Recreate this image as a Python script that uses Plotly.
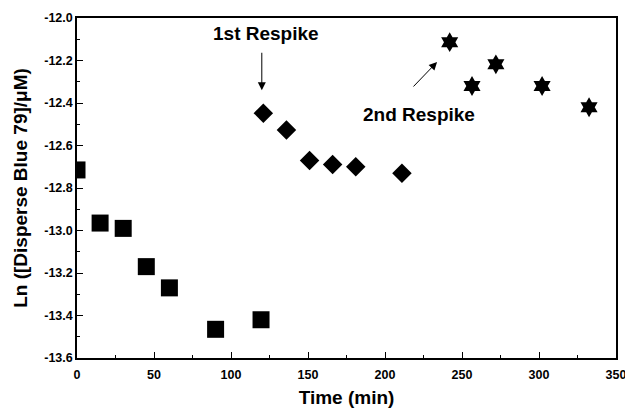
import plotly.graph_objects as go

# Data
t_initial = [0, 15, 30, 45, 60, 90, 119.5]
ln_initial = [-12.715, -12.965, -12.99, -13.17, -13.27, -13.465, -13.42]

t_first = [121, 136, 151, 166, 181, 211]
ln_first = [-12.448, -12.527, -12.67, -12.69, -12.70, -12.73]

t_second = [242, 256.5, 272, 302, 332.5]
ln_second = [-12.114, -12.32, -12.218, -12.32, -12.42]

x_ticks = [0, 50, 100, 150, 200, 250, 300, 350]
y_ticks = [-12.0, -12.2, -12.4, -12.6, -12.8, -13.0, -13.2, -13.4, -13.6]
y_ticktext = ["-12.0", "-12.2", "-12.4", "-12.6", "-12.8", "-13.0", "-13.2", "-13.4", "-13.6"]

FONT = "Liberation Sans, Arial, sans-serif"

fig = go.Figure()
fig.add_trace(go.Scatter(x=t_initial, y=ln_initial, mode="markers",
                         marker=dict(symbol="square", size=17, color="black")))
fig.add_trace(go.Scatter(x=t_first, y=ln_first, mode="markers",
                         marker=dict(symbol="diamond", size=15, color="black")))
fig.add_trace(go.Scatter(x=t_second, y=ln_second, mode="markers",
                         marker=dict(symbol="hexagram", size=15, color="black")))

axis_common = dict(showline=True, linecolor="black", linewidth=1.5, mirror=True,
                   ticks="inside", ticklen=6, tickwidth=1, tickcolor="black",
                   showgrid=False, zeroline=False, automargin=False,
                   ticklabeloverflow="allow",
                   tickfont=dict(family=FONT, size=12.5, color="black", weight="bold"))

fig.update_xaxes(range=[0, 350], tickvals=x_ticks, ticklabelstandoff=4,
                 minor=dict(ticks="inside", dtick=25, tick0=0, ticklen=3, tickcolor="black", showgrid=False),
                 title=dict(text="Time (min)", font=dict(family=FONT, size=19, color="black", weight="bold"),
                            standoff=10),
                 **axis_common)
fig.update_yaxes(range=[-13.6, -12.0], tickvals=y_ticks, ticktext=y_ticktext,
                 minor=dict(ticks="inside", dtick=0.1, tick0=-12.0, ticklen=3, tickcolor="black", showgrid=False),
                 title=dict(text="Ln ([Disperse Blue 79]/μM)", font=dict(family=FONT, size=19, color="black", weight="bold"),
                            standoff=12),
                 **axis_common)

# Annotation texts
fig.add_annotation(x=122.7, y=-12.075, text="1st Respike", showarrow=False,
                   font=dict(family=FONT, size=19, color="black", weight="bold"))
fig.add_annotation(x=222, y=-12.456, text="2nd Respike", showarrow=False,
                   font=dict(family=FONT, size=19, color="black", weight="bold"))
# Arrows
fig.add_annotation(x=120, y=-12.34, text="", showarrow=True, ax=0, ay=-39,
                   arrowhead=2, arrowsize=1.6, arrowwidth=1, arrowcolor="black")
fig.add_annotation(x=233.8, y=-12.207, text="", showarrow=True, ax=-25, ay=26,
                   arrowhead=2, arrowsize=1.6, arrowwidth=1, arrowcolor="black")

fig.update_layout(width=625, height=410, showlegend=False,
                  plot_bgcolor="white", paper_bgcolor="white",
                  margin=dict(l=77, r=9, t=18, b=52),
                  font=dict(family=FONT, color="black"))

fig.write_html("out.html")
